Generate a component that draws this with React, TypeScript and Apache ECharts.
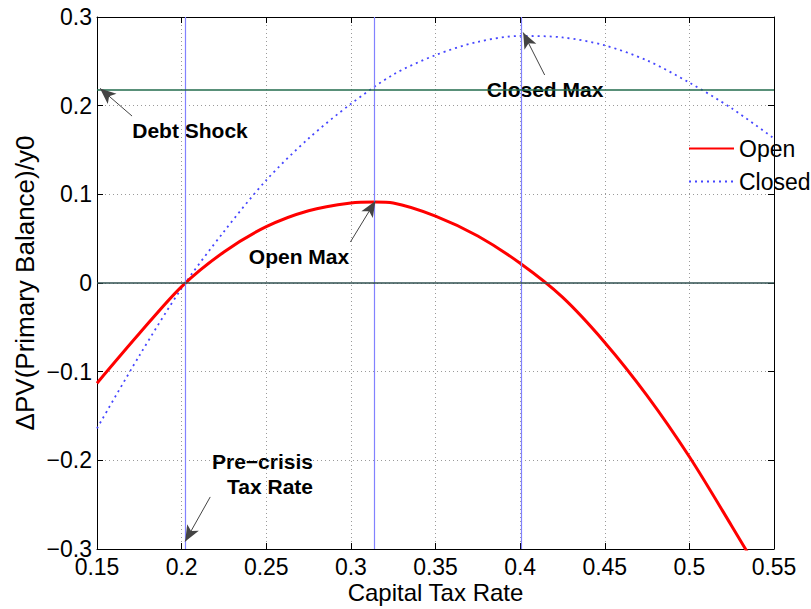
import React, { useEffect, useRef } from 'react';
import * as echarts from 'echarts';

// Capital tax rate grid (x) — closed economy
const closedRates = [0.15, 0.175, 0.2, 0.225, 0.25, 0.275, 0.3, 0.325, 0.35, 0.375, 0.4, 0.425, 0.45, 0.475, 0.5, 0.525, 0.55];
// ΔPV(Primary Balance)/y0 — closed economy
const closedBalance = [-0.164, -0.082, -0.006, 0.058, 0.116, 0.163, 0.202, 0.235, 0.257, 0.272, 0.2786, 0.277, 0.268, 0.251, 0.226, 0.197, 0.163];

// Capital tax rate grid (x) — open economy (includes its maximum)
const openRates = [0.15, 0.175, 0.2, 0.225, 0.25, 0.275, 0.3, 0.314, 0.325, 0.35, 0.375, 0.4, 0.425, 0.45, 0.475, 0.5, 0.525, 0.55];
// ΔPV(Primary Balance)/y0 — open economy
const openBalance = [-0.113, -0.057, -0.004, 0.035, 0.0635, 0.0815, 0.0903, 0.0914, 0.0903, 0.0755, 0.053, 0.0222, -0.016, -0.067, -0.127, -0.196, -0.274, -0.354];

// Reference markers
const markerRates = [0.2019, 0.3139, 0.4009]; // pre-crisis, open max, closed max
const debtShock = 0.2177;

// Axis ticks
const xMin = 0.15, xMax = 0.55, xStep = 0.05;
const yMin = -0.3, yMax = 0.3, yStep = 0.1;

// Annotation arrows (data coordinates: tail -> head)
const arrows = [
  { from: [0.1707, 0.1883], to: [0.1518, 0.2195] },
  { from: [0.4145, 0.2346], to: [0.4018, 0.2825] },
  { from: [0.2997, 0.0462], to: [0.3145, 0.0925] },
  { from: [0.2169, -0.2413], to: [0.2021, -0.2915] },
];

// Annotation texts
const notes = [
  { text: 'Debt Shock', x: 190, y: 130, align: 'center' },
  { text: 'Closed Max', x: 545, y: 89, align: 'center' },
  { text: 'Open Max', x: 299, y: 256, align: 'center' },
  { text: 'Pre\u2212crisis', x: 313, y: 461, align: 'right' },
  { text: 'Tax Rate', x: 313, y: 486, align: 'right' },
];

const fmt = (v: number) => String(+Number(v).toFixed(2)).replace('-', '\u2212');

export default function App() {
  const ref = useRef<HTMLDivElement>(null);
  useEffect(() => {
    document.body.style.margin = '0';
    const chart = echarts.init(ref.current!, null, { renderer: 'svg' });
    const font = '"Liberation Sans", Arial, Helvetica, sans-serif';
    const axisCommon = {
      type: 'value' as const,
      axisLine: { show: true, onZero: false, lineStyle: { color: '#000', width: 1 } },
      axisTick: { show: true, inside: true, length: 6, lineStyle: { color: '#000' } },
    };
    const gridLine = { show: true, lineStyle: { type: [1, 3], color: '#9a9a9a', width: 1 } };
    chart.setOption({
      animation: false,
      backgroundColor: '#fff',
      textStyle: { fontFamily: font },
      grid: { left: 97, right: 37, top: 17, bottom: 60, containLabel: false, outerBoundsMode: 'none' },
      legend: {
        show: true,
        orient: 'vertical',
        left: 688,
        top: 137,
        padding: 0,
        itemWidth: 45,
        itemHeight: 14,
        itemGap: 10,
        itemStyle: { opacity: 0, borderWidth: 0 },
        textStyle: { fontSize: 23, color: '#000', fontFamily: font, lineHeight: 23 },
        data: ['Open', 'Closed'],
      },
      xAxis: [
        {
          ...axisCommon,
          position: 'bottom',
          min: xMin, max: xMax, interval: xStep,
          name: 'Capital Tax Rate',
          nameLocation: 'middle',
          nameMoveOverlap: false,
          nameGap: 31,
          nameTextStyle: { fontSize: 24, color: '#000', fontFamily: font, lineHeight: 24 },
          axisLabel: { show: true, fontSize: 23, lineHeight: 20, color: '#000', margin: 8, formatter: fmt, fontFamily: font },
          splitLine: gridLine,
        },
        {
          ...axisCommon,
          position: 'top',
          min: xMin, max: xMax, interval: xStep,
          axisLabel: { show: false },
          splitLine: { show: false },
        },
      ],
      yAxis: [
        {
          ...axisCommon,
          position: 'left',
          min: yMin, max: yMax, interval: yStep,
          name: '\u0394PV(Primary Balance)/y0',
          nameLocation: 'middle',
          nameMoveOverlap: false,
          nameGap: 59,
          nameTextStyle: { fontSize: 26, color: '#000', fontFamily: font },
          axisLabel: { show: true, fontSize: 23, lineHeight: 20, color: '#000', margin: 5, formatter: fmt, fontFamily: font },
          splitLine: gridLine,
        },
        {
          ...axisCommon,
          position: 'right',
          min: yMin, max: yMax, interval: yStep,
          axisLabel: { show: false },
          splitLine: { show: false },
        },
      ],
      series: [
        {
          name: 'refs',
          type: 'line',
          data: [],
          silent: true,
          markLine: {
            silent: true,
            precision: 6,
            symbol: ['none', 'none'],
            label: { show: false },
            emphasis: { disabled: true },
            animation: false,
            data: [
              ...markerRates.map((r) => ({ xAxis: r, lineStyle: { color: '#8282ff', width: 1.2, type: 'solid' } })),
              { yAxis: debtShock, lineStyle: { color: '#226b4c', width: 1.5, type: 'solid' } },
              { yAxis: 0, lineStyle: { color: '#2f4f4f', width: 1.5, type: 'solid' } },
            ],
          },
        },
        {
          name: 'Closed',
          type: 'line',
          data: closedRates.map((x, i) => [x, closedBalance[i]]),
          smooth: 0.3,
          symbol: 'none',
          clip: true,
          color: '#4646ff',
          lineStyle: { color: '#4646ff', width: 1.8, type: [2, 4] },
        },
        {
          name: 'Open',
          type: 'line',
          data: openRates.map((x, i) => [x, openBalance[i]]),
          smooth: 0.3,
          symbol: 'none',
          clip: true,
          color: '#ff0000',
          lineStyle: { color: '#ff0000', width: 3 },
        },
        {
          name: 'arrows',
          type: 'line',
          data: [],
          silent: true,
          markLine: {
            silent: true,
            precision: 6,
            symbol: ['none', 'arrow'],
            symbolSize: [10, 16],
            label: { show: false },
            emphasis: { disabled: true },
            animation: false,
            itemStyle: { color: '#000' },
            lineStyle: { color: '#444', width: 1, type: 'solid' },
            data: arrows.map((a) => [{ coord: a.from }, { coord: a.to }]),
          },
        },
      ],
      graphic: notes.map((n) => ({
        type: 'text',
        x: n.x,
        y: n.y,
        style: {
          text: n.text,
          fontFamily: font,
          fontWeight: 'bold',
          fontSize: 21,
          fill: '#000',
          align: n.align,
          verticalAlign: 'middle',
        },
      })),
    });
    return () => chart.dispose();
  }, []);
  return <div ref={ref} style={{ width: 811, height: 609 }} />;
}
